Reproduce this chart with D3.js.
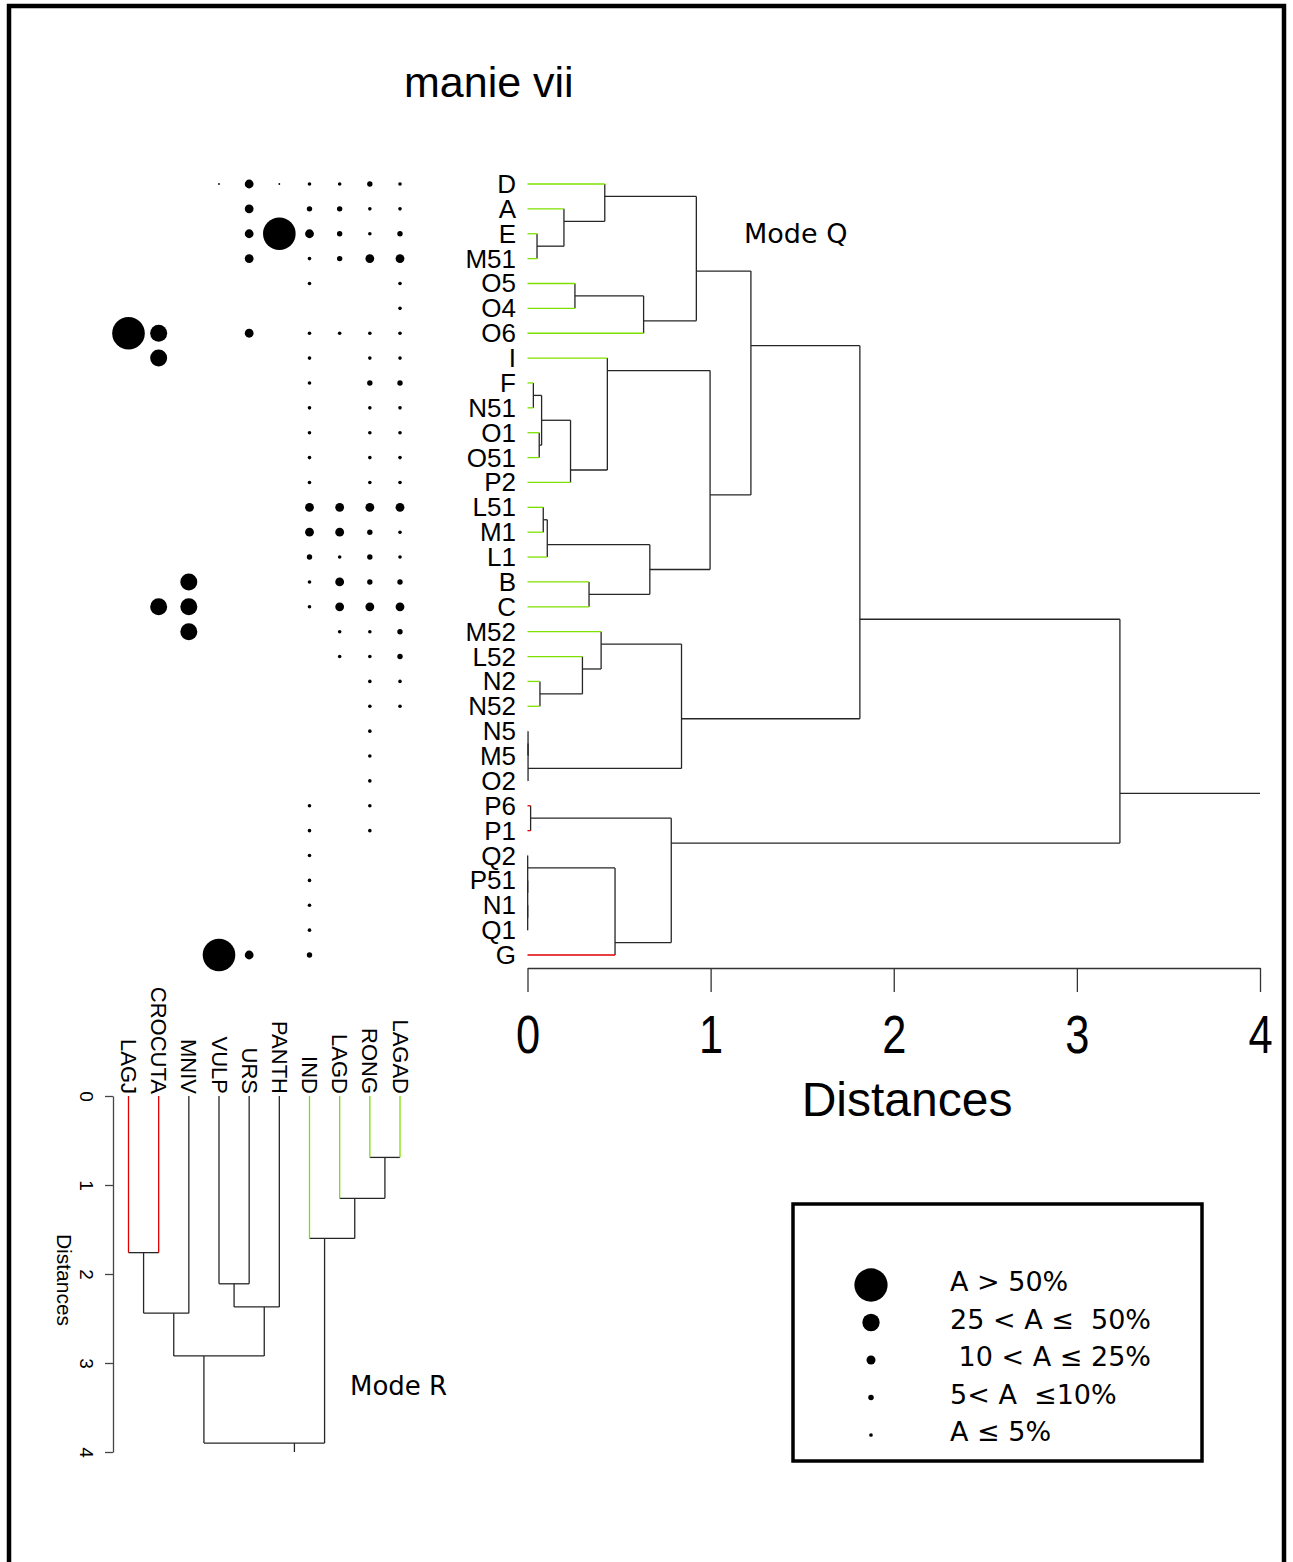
<!DOCTYPE html>
<html><head><meta charset="utf-8">
<script src="https://cdn.jsdelivr.net/npm/d3@7"></script>
<style>body{margin:0;background:#fff}svg{display:block}</style>
</head><body>
<script>
// ---------- DATA ----------
const title = "manie vii";
const qLeaves = ["D","A","E","M51","O5","O4","O6","I","F","N51","O1","O51","P2","L51","M1","L1","B","C","M52","L52","N2","N52","N5","M5","O2","P6","P1","Q2","P51","N1","Q1","G"];
const qLeafGroup = ["g","g","g","g","g","g","g","g","g","g","g","g","g","g","g","g","g","g","g","g","g","g","g","g","g","r","r","r","r","r","r","r"];
// merges: [childA, childB, distance]; strings = leaves, numbers = earlier merges
const qMerges = [
  ["E","M51",0.052], ["A",0,0.199], ["D",1,0.422], ["O5","O4",0.259], [3,"O6",0.634],
  [2,4,0.922], ["F","N51",0.032], ["O1","O51",0.064], [6,7,0.077], [8,"P2",0.235],
  ["I",9,0.436], ["L51","M1",0.086], [11,"L1",0.108], ["B","C",0.336], [12,13,0.668],
  [10,14,0.997], [5,15,1.220], ["N2","N52",0.068], ["L52",17,0.300], ["M52",18,0.402],
  ["N5","M5",0.003], [20,"O2",0.003], [19,21,0.841], [16,22,1.815], ["P6","P1",0.017],
  ["N1","Q1",0.001], ["P51",25,0.001], ["Q2",26,0.001], [27,"G",0.478], [24,28,0.785],
  [23,29,3.235]
];
const rLeaves = ["LAGJ","CROCUTA","MNIV","VULP","URS","PANTH","IND","LAGD","RONG","LAGAD"];
const rLeafGroup = ["r","r","k","k","k","k","g","g","g","g"];
const rMerges = [
  ["RONG","LAGAD",0.69], ["LAGD",0,1.15], ["IND",1,1.60], ["LAGJ","CROCUTA",1.76],
  ["VULP","URS",2.11], [4,"PANTH",2.37], [3,"MNIV",2.44], [6,5,2.92], [7,2,3.90]
];
const distTicks = [0,1,2,3,4];
// abundance class per (Q row, R column): 0 absent, 0.5 trace, 1..5 legend classes
const abundance = [
  [0,0,0,0.5,3,0.5,1,1,2,1],
  [0,0,0,0,3,0,2,2,1,1],
  [0,0,0,0,3,5,3,2,1,2],
  [0,0,0,0,3,0,1,2,3,3],
  [0,0,0,0,0,0,1,0,0,1],
  [0,0,0,0,0,0,0,0,0,1],
  [5,4,0,0,3,0,1,1,1,1],
  [0,4,0,0,0,0,1,0,1,1],
  [0,0,0,0,0,0,1,0,2,2],
  [0,0,0,0,0,0,1,0,1,1],
  [0,0,0,0,0,0,1,0,1,1],
  [0,0,0,0,0,0,1,0,1,1],
  [0,0,0,0,0,0,1,0,1,1],
  [0,0,0,0,0,0,3,3,3,3],
  [0,0,0,0,0,0,3,3,2,1],
  [0,0,0,0,0,0,2,1,2,1],
  [0,0,4,0,0,0,1,3,2,2],
  [0,4,4,0,0,0,1,3,3,3],
  [0,0,4,0,0,0,0,1,1,2],
  [0,0,0,0,0,0,0,1,1,2],
  [0,0,0,0,0,0,0,0,1,1],
  [0,0,0,0,0,0,0,0,1,1],
  [0,0,0,0,0,0,0,0,1,0],
  [0,0,0,0,0,0,0,0,1,0],
  [0,0,0,0,0,0,0,0,1,0],
  [0,0,0,0,0,0,1,0,1,0],
  [0,0,0,0,0,0,1,0,1,0],
  [0,0,0,0,0,0,1,0,0,0],
  [0,0,0,0,0,0,1,0,0,0],
  [0,0,0,0,0,0,1,0,0,0],
  [0,0,0,0,0,0,1,0,0,0],
  [0,0,0,5,3,0,2,0,0,0]
];
const legendClasses = [5,4,3,2,1];
const legendLabels = ["A > 50%","25 < A \u2264  50%"," 10 < A \u2264 25%","5< A  \u226410%","A \u2264 5%"];

// ---------- SETUP ----------
const W = 1293, H = 1562;
const svg = d3.select("body").append("svg").attr("width",W).attr("height",H);
const SANS = "'Liberation Sans', Arial, sans-serif";
const LINE = "#262626";
const colorOf = d3.scaleOrdinal().domain(["g","r","k"]).range(["#7ee000","#e00000",LINE]);
const radius = d3.scaleOrdinal().domain([0.5,1,2,3,4,5]).range([0.9,1.8,2.7,4.4,8.5,16.3]);

// frame
svg.append("rect").attr("x",9).attr("y",6).attr("width",1275).attr("height",1620)
  .attr("fill","none").attr("stroke","#000").attr("stroke-width",4.5);

svg.append("text").attr("x",404).attr("y",97).text(title)
  .attr("font-family",SANS).attr("font-size",43);

// scales
const yQ = d3.scaleLinear().domain([0,qLeaves.length-1]).range([184,955]);
const xQ = d3.scaleLinear().domain([0,4]).range([527.5,1260]);
const xR = d3.scaleLinear().domain([0,rLeaves.length-1]).range([128.5,400]);
const yR = d3.scaleLinear().domain([0,4]).range([1096,1452]);

function layout(leaves, merges){
  const idx = new Map(leaves.map((l,i)=>[l,i]));
  const nodes = [];
  const info = c => typeof c === "string"
    ? {leaf:c, min:idx.get(c), max:idx.get(c), pos:idx.get(c), h:0}
    : nodes[c];
  merges.forEach(m => {
    let a = info(m[0]), b = info(m[1]);
    if (a.min > b.min) [a,b] = [b,a];
    nodes.push({min:a.min, max:b.max, pos:(a.max+b.min)/2, h:m[2], kids:[a,b]});
  });
  return nodes;
}
function segments(nodes, leaves, groups){
  const gi = new Map(leaves.map((l,i)=>[l,groups[i]]));
  const segs = [];
  nodes.forEach(n => {
    n.kids.forEach(k => segs.push({h0:k.h, h1:n.h, p0:k.pos, p1:k.pos, c: k.leaf ? gi.get(k.leaf) : "k"}));
    segs.push({h0:n.h, h1:n.h, p0:n.kids[0].pos, p1:n.kids[1].pos, c:"k"});
  });
  const root = nodes[nodes.length-1];
  segs.push({h0:root.h, h1:4, p0:root.pos, p1:root.pos, c:"k"});
  segs.sort((a,b)=> (a.c==="k"?0:1)-(b.c==="k"?0:1));
  return segs;
}

// ---------- MODE Q dendrogram ----------
const qNodes = layout(qLeaves, qMerges);
svg.append("g").selectAll("line").data(segments(qNodes,qLeaves,qLeafGroup)).join("line")
  .attr("x1",d=>xQ(d.h0)).attr("x2",d=>xQ(d.h1))
  .attr("y1",d=>yQ(d.p0)).attr("y2",d=>yQ(d.p1))
  .attr("stroke",d=>colorOf(d.c)).attr("stroke-width",1.3);

svg.append("g").selectAll("text").data(qLeaves).join("text")
  .attr("x",516).attr("y",(d,i)=>yQ(i)+9).attr("text-anchor","end")
  .attr("font-family",SANS).attr("font-size",26).text(d=>d);

const axQ = svg.append("g").attr("transform","translate(0,968)")
  .call(d3.axisBottom(xQ).tickValues(distTicks).tickSize(24).tickSizeOuter(0).tickFormat(d3.format("d")));
axQ.attr("color","#333");
axQ.selectAll("path,line").attr("stroke-width",1.3);
axQ.selectAll("text").attr("y",85).attr("dy",null).attr("fill","#000")
  .attr("transform","scale(0.82,1)")
  .attr("font-family",SANS).attr("font-size",53);
svg.append("text").attr("x",907).attr("y",1116).attr("text-anchor","middle")
  .attr("font-family",SANS).attr("font-size",48).text("Distances");
svg.append("text").attr("x",744).attr("y",243)
  .attr("font-family","'DejaVu Sans', sans-serif").attr("font-size",27).text("Mode Q");

// ---------- MODE R dendrogram ----------
const rNodes = layout(rLeaves, rMerges);
svg.append("g").selectAll("line").data(segments(rNodes,rLeaves,rLeafGroup)).join("line")
  .attr("y1",d=>yR(d.h0)).attr("y2",d=>yR(d.h1))
  .attr("x1",d=>xR(d.p0)).attr("x2",d=>xR(d.p1))
  .attr("stroke",d=>colorOf(d.c)).attr("stroke-width",1.3);

svg.append("g").selectAll("text").data(rLeaves).join("text")
  .attr("transform",(d,i)=>`translate(${xR(i)},1094) rotate(90)`)
  .attr("text-anchor","end").attr("dy",7.5)
  .attr("font-family",SANS).attr("font-size",22).text(d=>d);

const axR = svg.append("g").attr("transform","translate(113,0)")
  .call(d3.axisLeft(yR).tickValues(distTicks).tickSize(8).tickSizeOuter(0).tickFormat(d3.format("d")));
axR.attr("color","#444");
axR.selectAll("path,line").attr("stroke-width",1.3);
axR.selectAll("text").attr("x",null).attr("dy",null).attr("fill","#000")
  .attr("transform",d=>`translate(-33,0) rotate(90)`).attr("text-anchor","middle")
  .attr("font-family",SANS).attr("font-size",19);
svg.append("text").attr("transform","translate(57,1280) rotate(90)").attr("text-anchor","middle")
  .attr("font-family",SANS).attr("font-size",21).text("Distances");
svg.append("text").attr("x",350).attr("y",1395)
  .attr("font-family","'DejaVu Sans', sans-serif").attr("font-size",26).text("Mode R");

// ---------- abundance matrix ----------
const cells = [];
abundance.forEach((row,i)=>row.forEach((v,j)=>{ if(v>0) cells.push({i,j,v}); }));
svg.append("g").selectAll("circle").data(cells).join("circle")
  .attr("cx",d=>xR(d.j)).attr("cy",d=>yQ(d.i)).attr("r",d=>radius(d.v)).attr("fill","#000");

// ---------- legend ----------
const lg = svg.append("g");
lg.append("rect").attr("x",793).attr("y",1204).attr("width",409).attr("height",257)
  .attr("fill","none").attr("stroke","#000").attr("stroke-width",3.5);
const ly = d3.scalePoint().domain(legendClasses).range([1285,1435]);
lg.selectAll("circle").data(legendClasses).join("circle")
  .attr("cx",871).attr("cy",d=>ly(d)).attr("r",d=>radius(d)*1.02).attr("fill","#000");
lg.selectAll("text").data(legendClasses).join("text")
  .attr("x",950).attr("y",d=>ly(d)+6).attr("xml:space","preserve").style("white-space","pre")
  .attr("font-family","'DejaVu Sans', sans-serif").attr("font-size",27)
  .text((d,i)=>legendLabels[i]);
</script>
</body></html>
